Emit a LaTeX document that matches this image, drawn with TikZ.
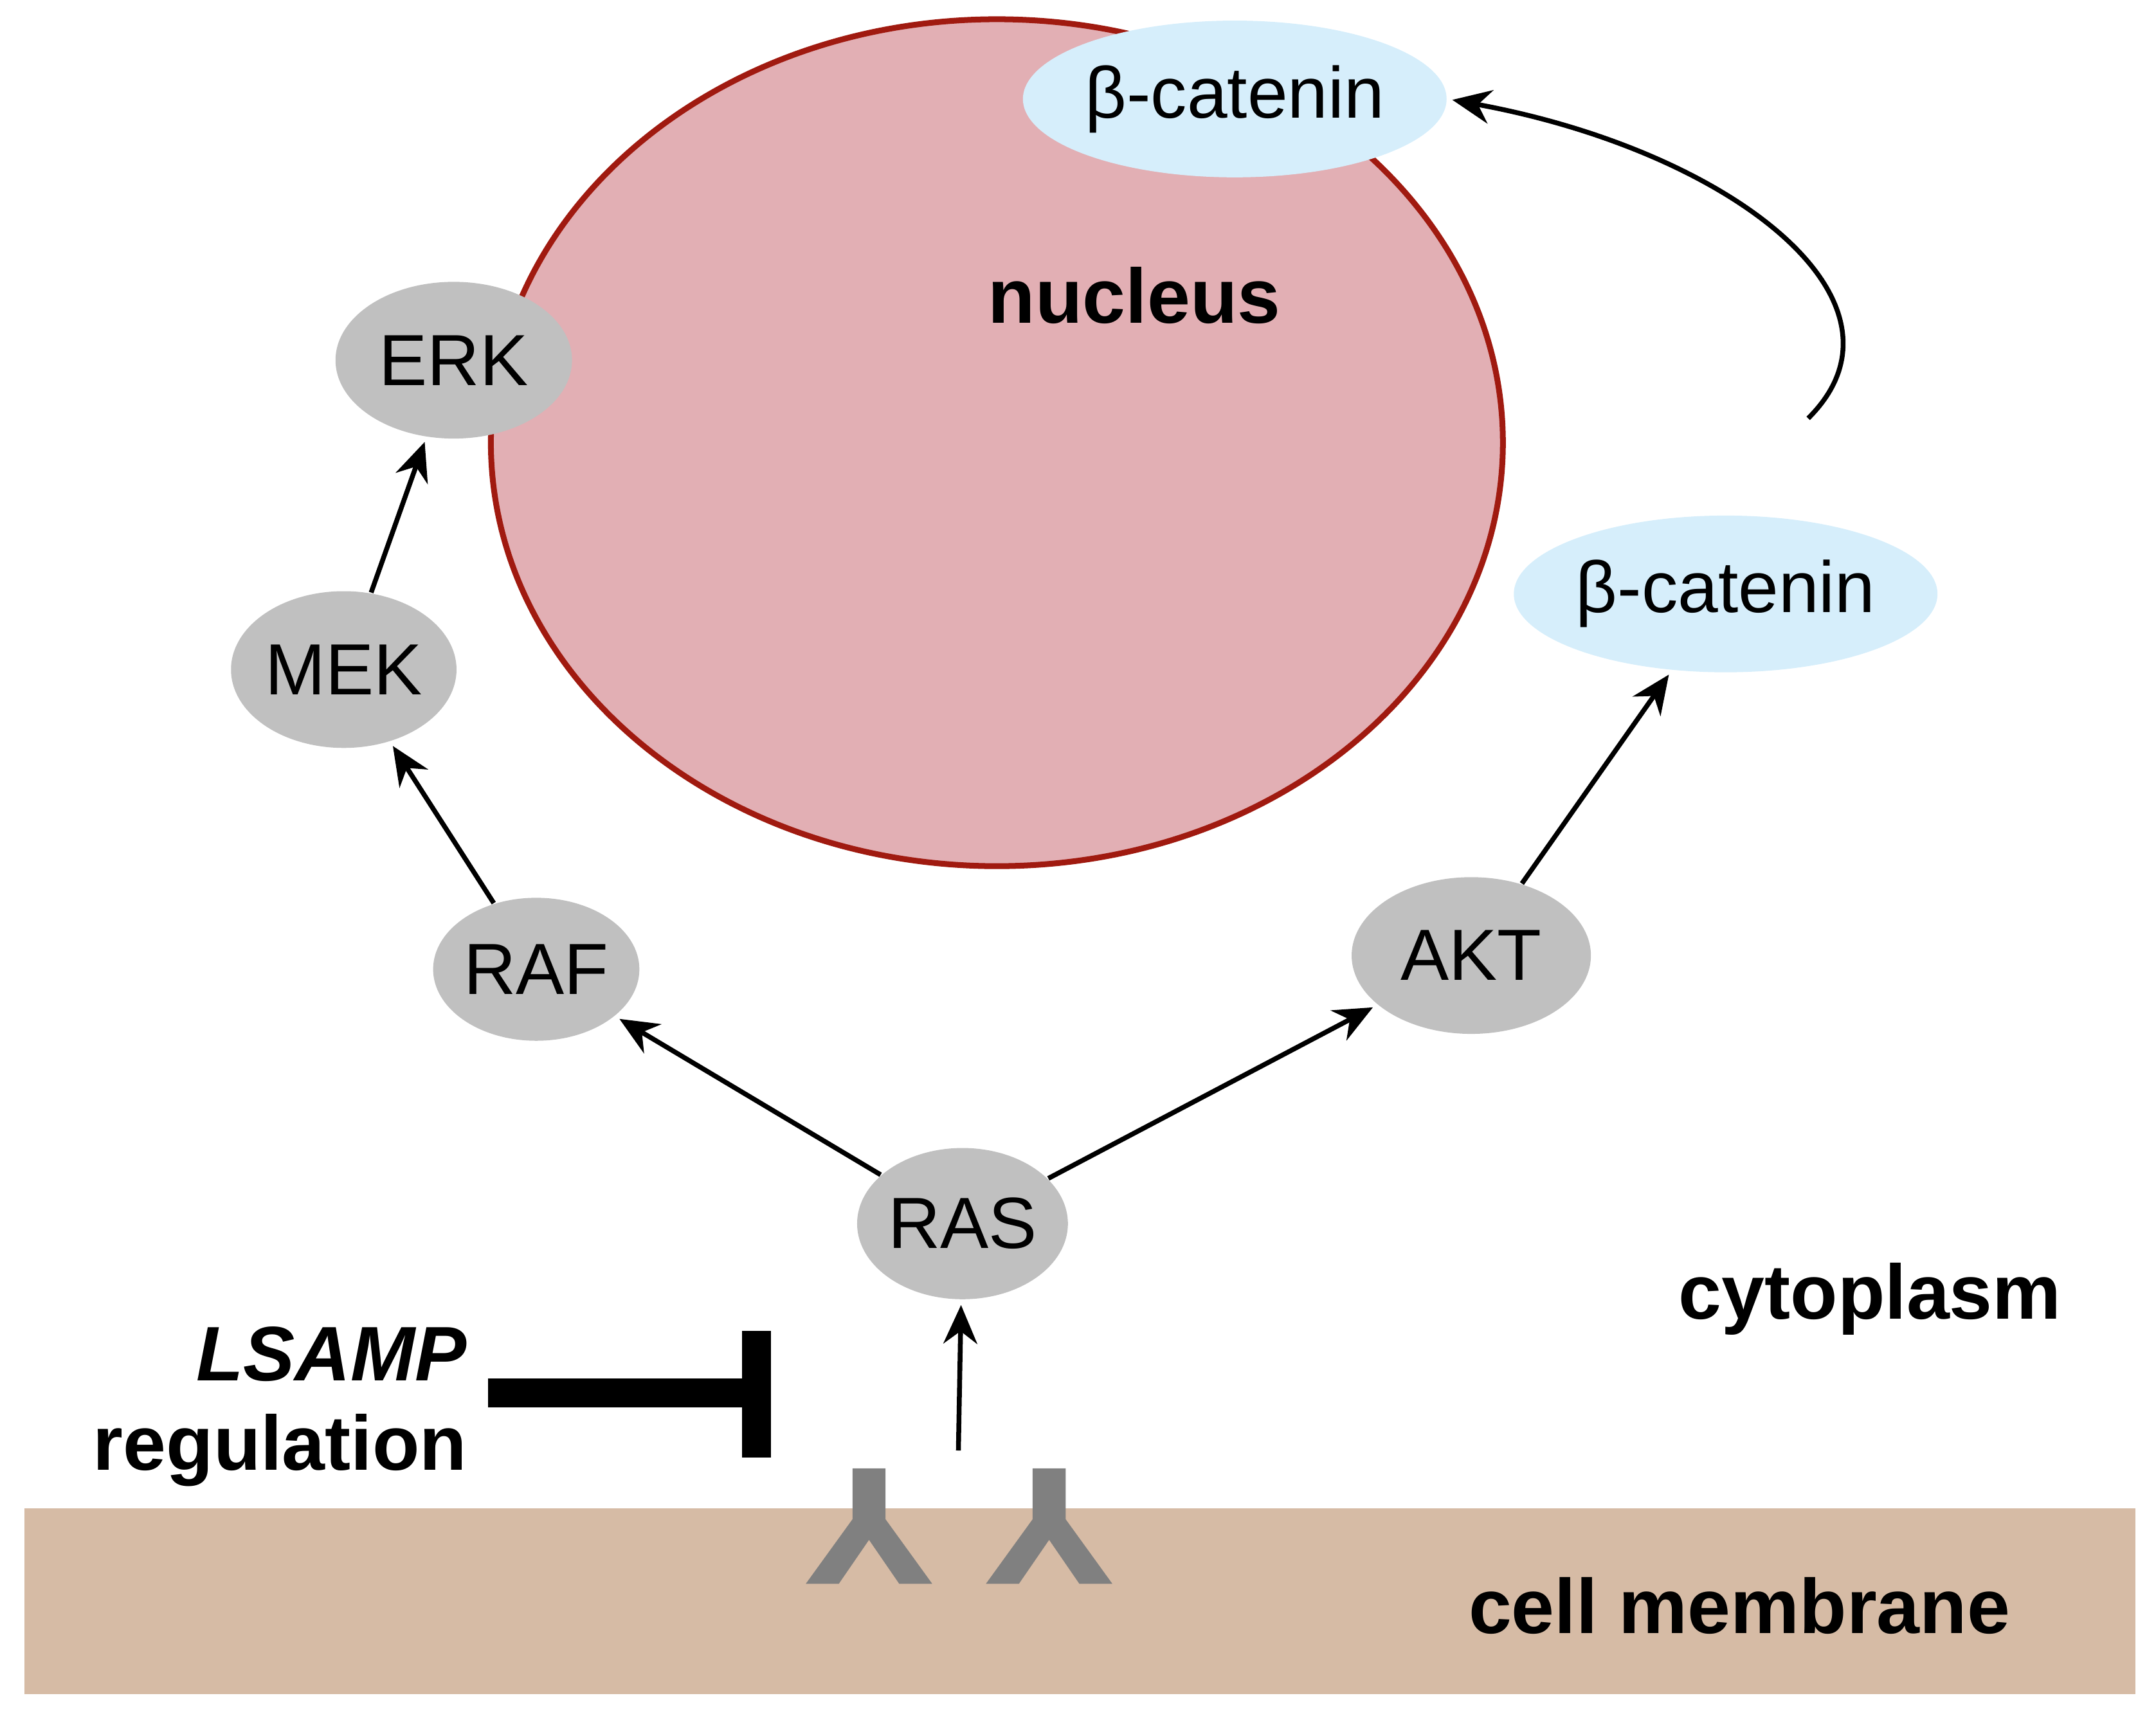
\documentclass[tikz,border=0pt]{standalone}
\usepackage{fontspec}
\setmainfont{Liberation Sans}
\usetikzlibrary{shapes.geometric,arrows.meta}
\definecolor{membrane}{HTML}{D6BBA5}
\definecolor{nucfill}{HTML}{E2AFB4}
\definecolor{nucline}{HTML}{A01A10}
\definecolor{prot}{HTML}{C0C0C0}
\definecolor{cat}{HTML}{D6EEFB}
\definecolor{recep}{HTML}{808080}
\tikzset{
  prot/.style={ellipse, fill=prot, inner sep=0pt, font=\fontsize{15}{18}\selectfont},
  cat/.style={ellipse, fill=cat, minimum width=2.74cm, minimum height=1.14cm, inner sep=0pt, font=\fontsize{15}{18}\selectfont},
  lbl/.style={font=\bfseries\fontsize{16}{19}\selectfont},
  sig/.style={line width=1pt, -{Stealth[length=8pt,width=7pt]}, shorten >=1pt}
}
\begin{document}
\begin{tikzpicture}[x=1cm,y=-1cm]
  \useasboundingbox (0,0) rectangle (15.68,12.48);
  % membrane and nucleus
  \fill[membrane] (0.18,10.97) rectangle (15.53,12.32);
  \draw[nucline, line width=1.2pt, fill=nucfill] (7.25,3.22) ellipse [x radius=3.68, y radius=3.08];
  \node[lbl] (nuc) at (8.25,2.15) {nucleus};
  \node[lbl] (cyto) at (13.6,9.45) {cytoplasm};
  \node[lbl] (memb) at (12.65,11.68) {cell membrane};

  % proteins
  \node[prot, minimum width=1.72cm, minimum height=1.14cm] (erk) at (3.30,2.62) {ERK};
  \node[prot, minimum width=1.64cm, minimum height=1.14cm] (mek) at (2.50,4.87) {MEK};
  \node[prot, minimum width=1.50cm, minimum height=1.04cm] (raf) at (3.90,7.05) {RAF};
  \node[prot, minimum width=1.74cm, minimum height=1.14cm] (akt) at (10.70,6.95) {AKT};
  \node[prot, minimum width=1.44cm, minimum height=1.10cm] (ras) at (7.00,8.90) {RAS};
  \node[cat] (catn) at (8.98,0.72) {β-catenin};
  \node[cat] (catc) at (12.55,4.32) {β-catenin};

  % receptors
  \foreach \x in {6.32,7.63}
    {\fill[recep] (\x-0.12,10.68) -- (\x+0.12,10.68) -- (\x+0.12,11.05)
       -- (\x+0.46,11.52) -- (\x+0.22,11.52) -- (\x,11.20)
       -- (\x-0.22,11.52) -- (\x-0.46,11.52) -- (\x-0.12,11.05) -- cycle;}
  \coordinate (rec) at (6.97,10.55);

  % inhibition
  \node[font=\bfseries\itshape\fontsize{16}{19}\selectfont, anchor=east] (ls) at (3.52,9.85) {LSAMP};
  \node[lbl, anchor=east] (reg) at (3.52,10.55) {regulation};
  \coordinate (inh) at (5.50,10.13);
  \draw[line width=6pt] (3.55,10.13) -- (inh);
  \draw[line width=6pt] (5.50,9.68) -- (5.50,10.60);

  % signalling arrows
  \draw[sig] (rec) -- (ras);
  \draw[sig] (ras) -- (raf);
  \draw[sig] (ras) -- (akt);
  \draw[sig] (raf) -- (mek);
  \draw[sig] (mek) -- (erk);
  \draw[sig] (akt) -- (catc);
  \draw[sig] (catc.north) ++(0.6,-0.7) coordinate (cs)
    .. controls (14.0,2.2) and (12.6,1.1) .. (catn.east);
\end{tikzpicture}
\end{document}
